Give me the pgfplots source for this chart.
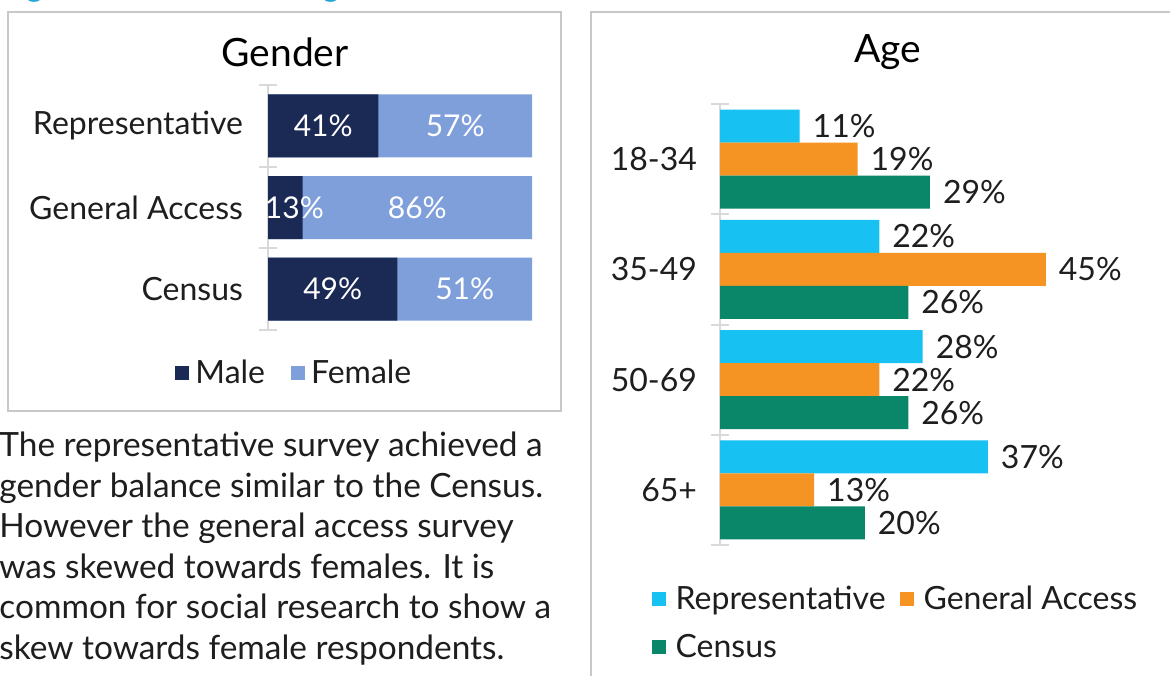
\documentclass[border=0pt]{standalone}
\usepackage{pgfplots}
\pgfplotsset{compat=1.18}
\usepackage{fontspec}
\setmainfont{Lato}
\definecolor{navy}{HTML}{1B2A55}
\definecolor{fem}{HTML}{7F9FDB}
\definecolor{cyanb}{HTML}{17C1F2}
\definecolor{orng}{HTML}{F59423}
\definecolor{grn}{HTML}{0A8669}
\definecolor{txt}{HTML}{1E1E1E}
\definecolor{axg}{HTML}{D9D9D9}
\definecolor{bdr}{HTML}{C8C8C8}
\definecolor{ttl}{HTML}{23A5D6}
\newcommand\lab{\fontsize{16}{19}\selectfont}
\newcommand\val{\fontsize{16}{19}\selectfont}
\newcommand\inl{\fontsize{15}{18}\selectfont}
\begin{document}
\begin{tikzpicture}
\useasboundingbox (0pt,0pt) rectangle (585pt,-337.5pt);
\clip (0pt,0pt) rectangle (585pt,-337.5pt);
\fill[white] (0pt,0pt) rectangle (585pt,-337.5pt);
% cut-off heading
\node[anchor=base west, inner sep=0pt, text=ttl, font=\fontsize{16}{19}\selectfont] at (0pt,2pt) {Figure 4: Gender and age distribution};
% boxes
\draw[bdr, line width=0.8pt] (4pt,-6pt) rectangle (280.5pt,-205.5pt);
\draw[bdr, line width=0.8pt] (295.5pt,-345pt) -- (295.5pt,-6pt) -- (600pt,-6pt);
% titles
\node[text=black, font=\fontsize{19.5}{23}\selectfont] at (142.5pt,-26pt) {Gender};
\node[text=black, font=\fontsize{19.5}{23}\selectfont] at (444pt,-26pt) {Age};
% paragraph
\begin{scope}[every node/.style={anchor=base west, inner sep=0pt, text=txt, font=\fontsize{16.7}{20}\selectfont}]
\node at (-0.5pt,-228pt) {The representative survey achieved a};
\node at (-0.5pt,-248.5pt) {gender balance similar to the Census.};
\node at (-0.5pt,-268.5pt) {However the general access survey};
\node at (-0.5pt,-289pt) {was skewed towards females. It is};
\node at (-0.5pt,-309pt) {common for social research to show a};
\node at (-0.5pt,-329.5pt) {skew towards female respondents.};
\end{scope}

% ---------------- Gender ----------------
\begin{axis}[
  at={(134pt,-165pt)}, anchor=south west,
  scale only axis, width=132pt, height=122.5pt,
  xmin=0, xmax=100, ymin=-0.5, ymax=2.5,
  axis x line=none, axis y line*=left,
  y axis line style={draw=axg, line width=1pt, -},
  ytick={0,1,2}, yticklabels={Census,General Access,Representative},
  major tick length=0pt,
  extra y ticks={-0.5,0.5,1.5,2.5}, extra y tick labels={},
  extra y tick style={major tick length=9pt, tick align=center, tick style={draw=axg, line width=1pt}},
  yticklabel style={font=\lab, text=txt, xshift=-9pt},
  clip=false,
  legend columns=2, reverse legend,
  legend style={draw=none, fill=none, at={(-0.352,-0.105)}, anchor=north west, font=\lab, text=txt, inner sep=0pt,
    /tikz/every odd column/.append style={column sep=1pt},
    /tikz/every even column/.append style={column sep=11pt}},
  legend image code/.code={\fill[#1] (0pt,-3.5pt) rectangle (7pt,3.5pt);},
]
\addplot[xbar, bar width=31.5pt, fill=fem, draw=none] coordinates {(100,0) (100,1) (100,2)};
\addplot[xbar, bar width=31.5pt, fill=navy, draw=none] coordinates {(49,0) (13.13,1) (41.84,2)};
\legend{Female, Male}
\addplot[draw=none, forget plot, nodes near coords, point meta=explicit symbolic,
  every node near coord/.append style={anchor=center, text=white, font=\inl}]
  coordinates {(24.5,0)[49\%] (74.5,0)[51\%] (10,1)[13\%] (56.57,1)[86\%] (20.92,2)[41\%] (70.92,2)[57\%]};
\end{axis}

% ---------------- Age ----------------
\begin{axis}[
  at={(360pt,-272.5pt)}, anchor=south west,
  scale only axis, width=181pt, height=220.5pt,
  xmin=0, xmax=50, ymin=-0.5, ymax=3.5,
  axis x line=none, axis y line*=left,
  y axis line style={draw=axg, line width=1pt, -},
  ytick={0,1,2,3}, yticklabels={65+,50-69,35-49,18-34},
  major tick length=0pt,
  extra y ticks={-0.5,0.5,1.5,2.5,3.5}, extra y tick labels={},
  extra y tick style={major tick length=9pt, tick align=center, tick style={draw=axg, line width=1pt}},
  yticklabel style={font=\lab, text=txt, xshift=-8pt},
  clip=false,
  bar width=16.5pt,
  nodes near coords, point meta=explicit symbolic,
  every node near coord/.append style={font=\val, text=txt, anchor=west, xshift=3pt},
  legend columns=2, legend cell align=left,
  legend style={draw=none, fill=none, at={(-0.19,-0.082)}, anchor=north west, font=\lab, text=txt, inner sep=0pt,
    /tikz/every odd column/.append style={column sep=3pt},
    /tikz/every even column/.append style={column sep=5pt}, row sep=7pt},
  legend image code/.code={\fill[#1] (0pt,-3.5pt) rectangle (7pt,3.5pt);},
]
\addplot[xbar, bar shift=16.5pt, fill=cyanb, draw=none,
  every node near coord/.append style={yshift=16.5pt}]
  coordinates {(37,0)[37\%] (28,1)[28\%] (22,2)[22\%] (11,3)[11\%]};
\addplot[xbar, bar shift=0pt, fill=orng, draw=none]
  coordinates {(13,0)[13\%] (22,1)[22\%] (45,2)[45\%] (19,3)[19\%]};
\addplot[xbar, bar shift=-16.5pt, fill=grn, draw=none,
  every node near coord/.append style={yshift=-16.5pt}]
  coordinates {(20,0)[20\%] (26,1)[26\%] (26,2)[26\%] (29,3)[29\%]};
\legend{Representative, General Access, Census}
\end{axis}
\end{tikzpicture}
\end{document}
